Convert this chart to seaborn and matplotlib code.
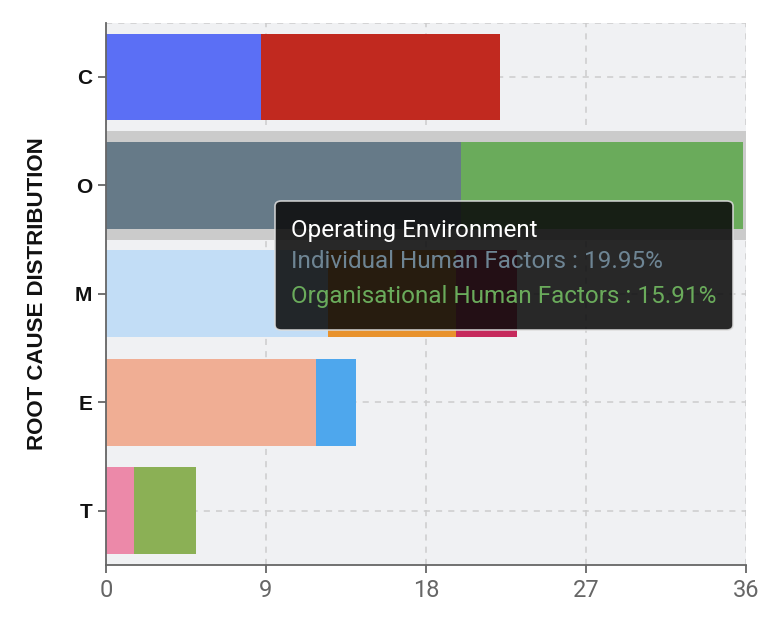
import matplotlib
matplotlib.use("Agg")
import matplotlib.pyplot as plt
import seaborn as sns
import pandas as pd
from matplotlib.patches import FancyBboxPatch, Rectangle

# root cause categories, top to bottom
categories = ["C", "O", "M", "E", "T"]

# stacked segment values (%) per category, left to right
seg_1 = [8.74, 19.95, 12.49, 11.82, 1.59]
seg_2 = [13.43, 15.91, 7.19, 2.27, 3.47]
seg_3 = [0.0, 0.0, 3.43, 0.0, 0.0]

seg_1_colors = ["#5b6ff5", "#667a88", "#c2ddf6", "#f0ae94", "#ec89a9"]
seg_2_colors = ["#c1291f", "#6aab5b", "#e8922c", "#4ea7ed", "#8bb055"]
seg_3_colors = ["#c1291f", "#6aab5b", "#c62a5c", "#4ea7ed", "#8bb055"]

x_ticks = [0, 9, 18, 27, 36]

tooltip_title = "Operating Environment"
tooltip_lines = ["Individual Human Factors : 19.95%", "Organisational Human Factors : 15.91%"]
tooltip_colors = ["#6e8594", "#6aab5b"]

sns.set_theme(style="whitegrid")
plt.rcParams["font.family"] = ["Roboto", "DejaVu Sans"]

fig = plt.figure(figsize=(7.81, 6.36), dpi=100)
ax = fig.add_axes([106 / 781, 71 / 636, 639.7 / 781, 542.3 / 636])
ax.set_facecolor("#f0f1f3")

# highlight band behind the hovered category (O)
ax.add_patch(Rectangle((0, 0.5), 36, 1.0, facecolor="#cbcbcb",
                       edgecolor="none", zorder=1))

# cumulative ends, drawn from the longest layer so the shorter ones sit on top
end_1 = seg_1
end_2 = [a + b for a, b in zip(seg_1, seg_2)]
end_3 = [a + b + c for a, b, c in zip(seg_1, seg_2, seg_3)]

layers = [(end_3, seg_3_colors), (end_2, seg_2_colors), (end_1, seg_1_colors)]
for ends, cols in layers:
    df = pd.DataFrame({"cat": categories, "val": ends})
    sns.barplot(data=df, x="val", y="cat", hue="cat", order=categories,
                palette=dict(zip(categories, cols)), width=0.8, legend=False,
                saturation=1, linewidth=0, ax=ax, zorder=2)

ax.set_xlim(0, 36)
ax.set_ylim(4.5, -0.5)
ax.set_xticks(x_ticks)
ax.set_xticklabels([str(t) for t in x_ticks], fontsize=17, color="#666666")
ax.set_yticks(range(len(categories)))
ax.set_yticklabels(categories, fontsize=15, fontweight="bold", color="#111111",
                   family=["Liberation Sans", "DejaVu Sans"])

ax.grid(True, color="#cccccc", linestyle=(0, (4, 4)), linewidth=1.1)
ax.set_axisbelow(True)
for side in ["top", "right"]:
    ax.spines[side].set_visible(False)
ax.axhline(-0.5, color="#cccccc", linestyle=(0, (4, 4)), linewidth=1.1, zorder=0.5)
for side in ["left", "bottom"]:
    ax.spines[side].set_color("#666666")
    ax.spines[side].set_linewidth(1.3)

ax.tick_params(axis="x", colors="#666666", length=6, width=1.3, bottom=True, pad=4)
ax.tick_params(axis="y", colors="#666666", labelcolor="#111111", length=6,
               width=1.3, left=True, pad=4)

ax.set_xlabel("")
ax.set_ylabel("ROOT CAUSE DISTRIBUTION", fontsize=16, fontweight="bold",
              color="#111111", labelpad=19, family=["Liberation Sans", "DejaVu Sans"])

# hover tooltip
box = FancyBboxPatch((275 / 781, 1 - 330 / 636), 458 / 781, 129 / 636,
                     boxstyle="round,pad=0,rounding_size=0.008",
                     transform=fig.transFigure, facecolor="#0c0c0c", alpha=0.88,
                     edgecolor="#dddddd", linewidth=1.2, zorder=10)
fig.patches.append(box)
fig.text(291 / 781, 1 - 230 / 636, tooltip_title, color="white", fontsize=17.5,
         va="center", ha="left", zorder=11)
for i, (line, col) in enumerate(zip(tooltip_lines, tooltip_colors)):
    fig.text(291 / 781, 1 - (262 + 34 * i) / 636, line, color=col, fontsize=17.5,
             va="center", ha="left", zorder=11)

fig.savefig("out.png", dpi=100)
plt.close(fig)
